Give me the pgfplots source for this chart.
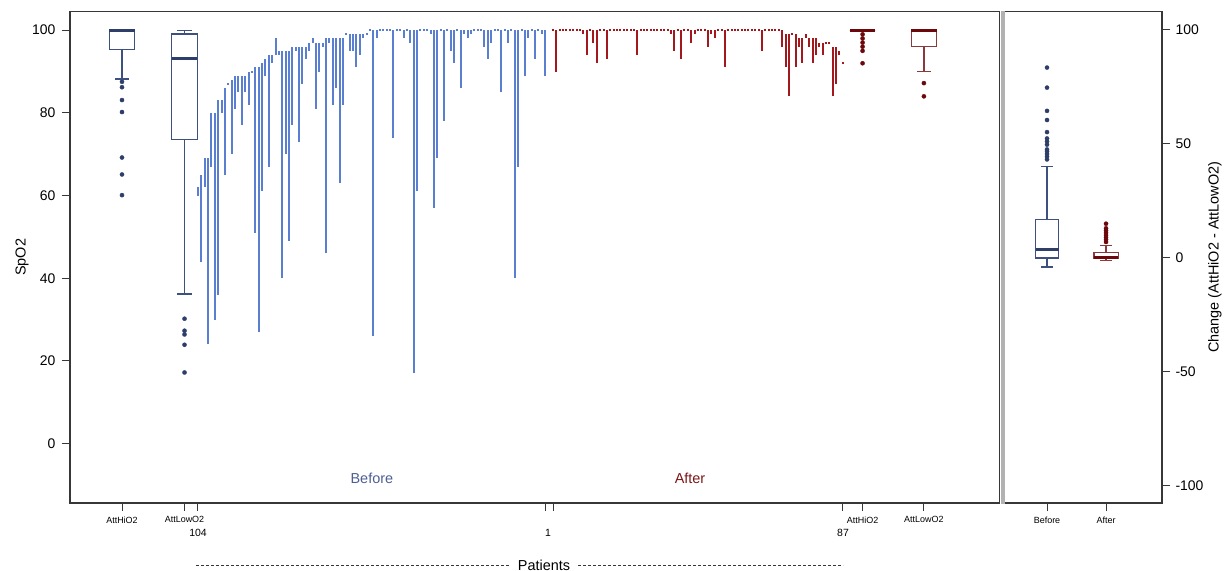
\documentclass[border=0pt]{standalone}
\usepackage{fontspec}
\setmainfont{Liberation Sans}
\usepackage{pgfplots}
\pgfplotsset{compat=1.18}
\usepackage{pgfplotstable}
\usepgfplotslibrary{statistics}

\definecolor{befline}{RGB}{90,127,208}
\definecolor{aftline}{RGB}{162,24,28}
\definecolor{befbox}{RGB}{62,80,128}
\definecolor{befdark}{RGB}{46,62,106}
\definecolor{aftbox}{RGB}{138,58,58}
\definecolor{aftdark}{RGB}{108,8,12}
\definecolor{framecol}{RGB}{55,55,55}
\definecolor{sepgray}{RGB}{178,178,178}
\definecolor{beftext}{RGB}{78,94,148}
\definecolor{afttext}{RGB}{125,22,22}

\newcommand{\fbig}{\fontsize{14.5}{17}\selectfont}
\newcommand{\ftick}{\fontsize{14}{16}\selectfont}
\newcommand{\fsmall}{\fontsize{9}{10}\selectfont}
\newcommand{\fnum}{\fontsize{10.5}{12}\selectfont}

\pgfplotsset{boxplot/draw direction=y}

% Before: patients 104 ... 1 (k = 0 ... 103), AttHiO2 / AttLowO2
\pgfplotstableread{
k hi lo
0 62 60
1 65 44
2 69 62
3 69 24
4 80 67
5 80 30
6 83 36
7 83 80
8 86 65
9 87 87
10 88 70
11 89 81
12 89 85
13 89 77
14 89 85
15 90 82
16 90 90
17 91 51
18 91 27
19 92 61
20 93 89
21 94 67
22 94 92
23 98 94
24 95 94
25 95 40
26 95 70
27 95 49
28 96 77
29 96 95
30 96 73
31 96 87
32 96 93
33 97 95
34 98 97
35 97 81
36 97 90
37 97 96
38 98 46
39 98 97
40 98 82
41 98 86
42 98 63
43 98 82
44 99 99
45 99 95
46 99 95
47 99 91
48 99 94
49 99 98
50 99 99
51 100 100
52 100 26
53 100 98
54 100 100
55 100 100
56 100 100
57 100 100
58 100 74
59 100 100
60 100 100
61 100 98
62 100 100
63 100 97
64 100 17
65 100 61
66 100 100
67 100 100
68 100 100
69 100 99
70 100 57
71 100 69
72 100 100
73 100 78
74 100 100
75 100 95
76 100 92
77 100 100
78 100 86
79 100 99
80 100 98
81 100 99
82 100 100
83 100 100
84 100 100
85 100 96
86 100 93
87 100 97
88 100 100
89 100 100
90 100 85
91 100 100
92 100 97
93 100 100
94 100 40
95 100 67
96 100 100
97 100 89
98 100 98
99 100 100
100 100 93
101 100 100
102 100 99
103 100 89
}\beforetab

% After: patients 1 ... 87 (j = 0 ... 86)
\pgfplotstableread{
j hi lo
0 100 100
1 100 90
2 100 100
3 100 100
4 100 100
5 100 100
6 100 100
7 100 100
8 100 100
9 100 99
10 100 94
11 100 100
12 100 97
13 100 92
14 100 100
15 100 100
16 100 93
17 100 100
18 100 100
19 100 100
20 100 100
21 100 100
22 100 100
23 100 100
24 100 100
25 100 94
26 100 100
27 100 100
28 100 100
29 100 100
30 100 100
31 100 100
32 100 100
33 100 100
34 100 100
35 100 99
36 100 95
37 100 100
38 100 93
39 100 100
40 100 100
41 100 97
42 100 99
43 100 100
44 100 100
45 100 100
46 100 96
47 100 99
48 100 98
49 100 100
50 100 100
51 100 91
52 100 100
53 100 100
54 100 100
55 100 100
56 100 100
57 100 100
58 100 100
59 100 100
60 100 100
61 100 100
62 100 95
63 100 100
64 100 100
65 100 100
66 100 100
67 100 100
68 100 96
69 99 91
70 99 84
71 99 99
72 99 91
73 98 96
74 98 92
75 99 98
76 98 96
77 98 92
78 98 94
79 97 96
80 97 94
81 97 97
82 97 97
83 96 84
84 96 87
85 95 94
86 92 92
}\aftertab

\begin{document}
\begin{tikzpicture}
\useasboundingbox (0,0) rectangle (1230bp,571bp);

% ---------------- left panel ----------------
\begin{axis}[
  at={(70bp,68bp)}, anchor=south west,
  width=929.5bp, height=491.5bp, scale only axis,
  xmin=-37.98, xmax=237.83, ymin=-14.37, ymax=104.52,
  clip=false,
  axis line style={framecol, line width=1.3bp},
  tick align=outside, xtick pos=bottom, ytick pos=left,
  major tick length=8bp,
  tick style={framecol, line width=1bp},
  ytick={0,20,40,60,80,100}, yticklabels={0,20,40,60,80,100},
  yticklabel style={font=\ftick, xshift=-3bp},
  xtick={-22.55,-4.0,197.2,215.4},
  xticklabels={AttHiO2,AttLowO2,AttHiO2,AttLowO2},
  xticklabel style={font=\fsmall, yshift=-2bp},
  extra x ticks={0,103,105.34,191.34},
  extra x tick labels={},
  extra x tick style={grid=none},
  ylabel={SpO2},
  ylabel style={at={(axis description cs:-0.0516,0.5)}, anchor=center, font=\fbig},
]
% patient segments (AttHiO2 to AttLowO2)
\addplot[draw=none, mark=none, forget plot,
  error bars/.cd, y dir=both, y explicit, error mark=none,
  error bar style={line width=2.0bp, draw=befline}]
  table[x=k, y expr={(\thisrow{hi}+\thisrow{lo})/2},
        y error expr={max(abs(\thisrow{hi}-\thisrow{lo})/2,0.22)}] {\beforetab};
\addplot[draw=none, mark=none, forget plot,
  error bars/.cd, y dir=both, y explicit, error mark=none,
  error bar style={line width=2.0bp, draw=aftline}]
  table[x expr={\thisrow{j}+105.34}, y expr={(\thisrow{hi}+\thisrow{lo})/2},
        y error expr={max(abs(\thisrow{hi}-\thisrow{lo})/2,0.22)}] {\aftertab};

% before boxplots
\addplot[befbox, line width=1.2bp, mark=*, mark size=2.1bp,
  mark options={befdark, fill=befdark, line width=0.3bp},
  boxplot/every median/.style={befdark, line width=3bp},
  boxplot prepared={draw position=-22.55, box extend=7.6, whisker extend=4.2,
    lower whisker=88.2, lower quartile=95.3, median=100,
    upper quartile=100, upper whisker=100}]
  coordinates {(0,87.5)(0,86.2)(0,83.1)(0,80.2)(0,69.2)(0,65.1)(0,60.1)};
\addplot[befbox, line width=1.2bp, mark=*, mark size=2.1bp,
  mark options={befdark, fill=befdark, line width=0.3bp},
  boxplot/every median/.style={befdark, line width=3bp},
  boxplot prepared={draw position=-4.0, box extend=7.6, whisker extend=4.4,
    lower whisker=36.2, lower quartile=73.6, median=93.2,
    upper quartile=99.1, upper whisker=100}]
  coordinates {(0,30.2)(0,27.3)(0,26.4)(0,23.9)(0,17.2)};
% after boxplots
\addplot[aftdark, line width=1.2bp, mark=*, mark size=2.1bp,
  mark options={aftdark, fill=aftdark, line width=0.3bp},
  boxplot/every median/.style={aftdark, line width=3bp},
  boxplot prepared={draw position=197.2, box extend=7.5, whisker extend=4.0,
    lower whisker=100, lower quartile=100, median=100,
    upper quartile=100, upper whisker=100}]
  coordinates {(0,99)(0,98)(0,97)(0,96)(0,95)(0,92)};
\addplot[aftbox, line width=1.2bp, mark=*, mark size=2.1bp,
  mark options={aftdark, fill=aftdark, line width=0.3bp},
  boxplot/every median/.style={aftdark, line width=3bp},
  boxplot prepared={draw position=215.4, box extend=7.6, whisker extend=4.0,
    lower whisker=90, lower quartile=96, median=100,
    upper quartile=100, upper whisker=100}]
  coordinates {(0,87.2)(0,84)};

\node[font=\fbig, text=beftext] at (axis cs:51.6,-8.32) {Before};
\node[font=\fbig, text=afttext] at (axis cs:146,-8.32) {After};
\end{axis}

% ---------------- right panel ----------------
\begin{axis}[
  at={(1003bp,68bp)}, anchor=south west,
  width=159bp, height=491.5bp, scale only axis,
  xmin=0.2542, xmax=2.949, ymin=-107.5, ymax=108.1,
  clip=false,
  axis line style={framecol, line width=1.3bp},
  tick align=outside, xtick pos=bottom, ytick pos=right, yticklabel pos=right,
  major tick length=8bp,
  tick style={framecol, line width=1bp},
  xtick={1,2}, xticklabels={Before,After},
  xticklabel style={font=\fsmall, yshift=-2bp},
  ytick={-100,-50,0,50,100}, yticklabels={-100,-50,0,50,100},
  yticklabel style={font=\ftick, xshift=2bp},
  ylabel={Change (AttHiO2 - AttLowO2)},
  ylabel style={at={(axis description cs:1.333,0.5)}, anchor=center, font=\fbig},
]
\addplot[befbox, line width=1.2bp, mark=*, mark size=2.1bp,
  mark options={befdark, fill=befdark, line width=0.3bp},
  boxplot/every median/.style={befdark, line width=3bp},
  boxplot prepared={draw position=1, box extend=0.39, whisker extend=0.2,
    lower whisker=-4, lower quartile=0, median=3.6,
    upper quartile=17, upper whisker=40}]
  coordinates {(0,83.5)(0,74.7)(0,64.5)(0,60.5)(0,55.2)(0,52.4)(0,51.1)(0,49.7)
               (0,47.6)(0,46.8)(0,45.6)(0,44.4)(0,43.2)};
\addplot[aftbox, line width=1.2bp, mark=*, mark size=2.1bp,
  mark options={aftdark, fill=aftdark, line width=0.3bp},
  boxplot/every median/.style={aftdark, line width=3bp},
  boxplot prepared={draw position=2, box extend=0.41, whisker extend=0.2,
    lower whisker=-1.2, lower quartile=-0.3, median=0.4,
    upper quartile=2.4, upper whisker=5.5}]
  coordinates {(0,7)(0,8)(0,9)(0,10)(0,11)(0,12)(0,13)(0,15)};
\end{axis}

% separator between the panels
\fill[sepgray] (1001bp,67.4bp) rectangle (1005bp,560.1bp);

% patient index labels and axis title
\node[font=\fnum] at (198bp,38bp) {104};
\node[font=\fnum] at (548bp,38bp) {1};
\node[font=\fnum] at (843bp,38bp) {87};
\draw[framecol, line width=0.8bp, dash pattern=on 3bp off 2bp] (196bp,6bp) -- (509bp,6bp);
\node[font=\fbig, inner sep=0pt] at (544bp,6bp) {Patients};
\draw[framecol, line width=0.8bp, dash pattern=on 3bp off 2bp] (578bp,6bp) -- (843bp,6bp);
\end{tikzpicture}
\end{document}
